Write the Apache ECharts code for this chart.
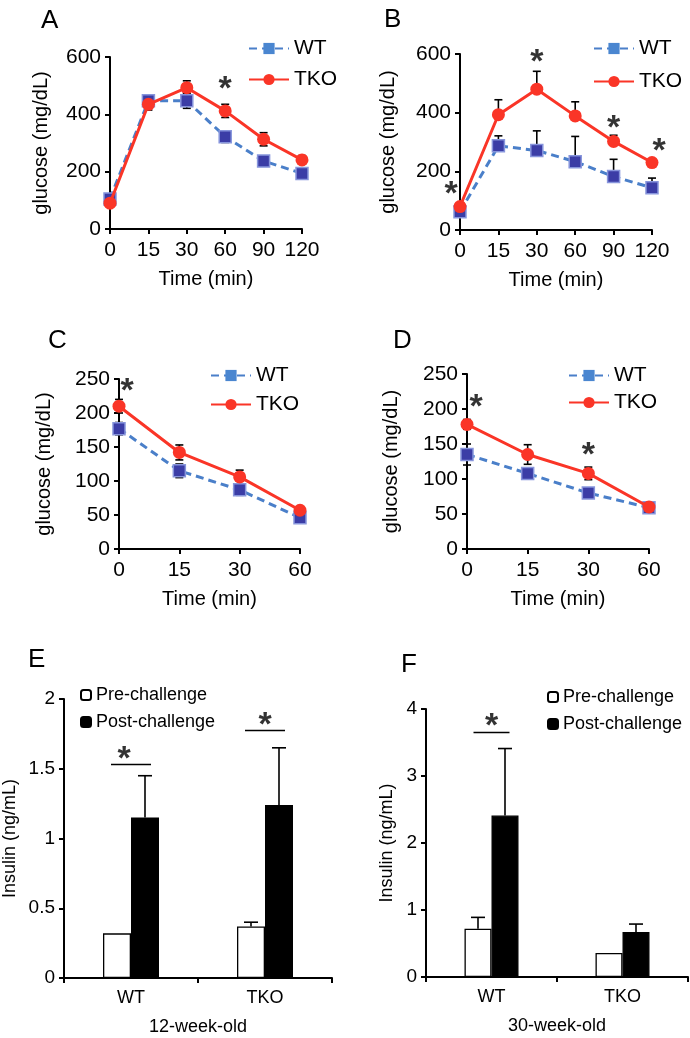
<!DOCTYPE html>
<html><head><meta charset="utf-8">
<script src="https://cdn.jsdelivr.net/npm/echarts@6/dist/echarts.min.js"></script>
<style>html,body{margin:0;padding:0;background:#fff}#c{width:690px;height:1038px}</style>
</head><body><div id="c"></div>
<script>
// ---------- data ----------
const timeAB = ['0','15','30','60','90','120'];
const timeCD = ['0','15','30','60'];
const wtA = [105,447,447,322,237,194];
const wtAErr = [10,10,26,20,10,10];
const tkoA = [90,435,493,412,313,241];
const tkoAErr = [8,20,24,23,23,15];
const wtB = [62,287,271,233,182,144];
const wtBErr = [8,34,67,86,59,33];
const tkoB = [80,393,480,389,302,230];
const tkoBErr = [8,51,61,48,21,6];
const wtC = [177,115,87,46];
const wtCErr = [9,10,8,4];
const tkoC = [210,142,106,57];
const tkoCErr = [10,11,10,4];
const wtD = [135,108,80,59];
const wtDErr = [15,4,4,5];
const tkoD = [178,135,108,60];
const tkoDErr = [7,14,9,6];
const groups = ['WT','TKO'];
const preE = [0.32,0.37];
const preEErr = [0,0.03];
const postE = [1.15,1.24];
const postEErr = [0.30,0.41];
const preF = [0.72,0.36];
const preFErr = [0.17,0];
const postF = [2.41,0.67];
const postFErr = [1.0,0.12];
const ticksAB = [0,200,400,600];
const ticksCD = [0,50,100,150,200,250];
const ticksE = [0,0.5,1,1.5,2];
const ticksF = [0,1,2,3,4];
// significance stars: [category, value]
const starsA = [['60',509]];
const starsB = [['0',143],['30',594],['90',369],['120',290]];
const starsC = [['0',242]];
const starsD = [['0',212],['30',143]];
// significance bars: [category, line value, star value]
const sigE = [['WT',1.53,1.615],['TKO',1.775,1.857]];
const sigF = [['WT',3.65,3.84]];

// ---------- style ----------
const FF = '"Liberation Sans", Arial, Helvetica, sans-serif';
const BLUE_LINE = '#4a7fc9', BLUE_MARK = '#3b3da6', BLUE_LEG = '#4a86d0', RED = '#fa3527';
const starDx = {B:{'0':-9,'120':7}, C:{'0':8}, D:{'0':9}, E:{'WT':-7}};
const STAR_DY = 7;

const grids = [
  {left:110, top:57, width:192, height:172},
  {left:460, top:54, width:192, height:176},
  {left:119, top:379, width:181, height:170},
  {left:467, top:374, width:182, height:175},
  {left:63, top:699, width:269, height:279},
  {left:426, top:709, width:262, height:268}
];

const axisLineStyle = {lineStyle:{color:'#000', width:2}};
const tickStyle = {show:true, length:5, inside:false, lineStyle:{color:'#000', width:2}};

function xLine(i, cats){
  return {type:'category', gridIndex:i, data:cats, boundaryGap:false,
    axisLine:axisLineStyle, axisTick:{...tickStyle, interval:0},
    axisLabel:{color:'#000', fontSize:21, fontFamily:FF, margin:11, interval:0},
    name:'Time (min)', nameLocation:'middle', nameGap:40,
    nameTextStyle:{color:'#000', fontSize:20, fontFamily:FF}};
}
function yAx(i, ticks, name, fs, nfs, gap, margin){
  return {type:'value', gridIndex:i, min:ticks[0], max:ticks[ticks.length-1], interval:ticks[1]-ticks[0],
    splitLine:{show:false}, axisLine:{show:true, lineStyle:{color:'#000', width:2}}, axisTick:tickStyle,
    axisLabel:{color:'#000', fontSize:fs, fontFamily:FF, margin:margin},
    name:name, nameLocation:'middle', nameGap:gap,
    nameTextStyle:{color:'#000', fontSize:nfs, fontFamily:FF}};
}
function xBar(i, name){
  return {type:'category', gridIndex:i, data:groups, boundaryGap:true,
    axisLine:axisLineStyle, axisTick:tickStyle,
    axisLabel:{color:'#000', fontSize:18, fontFamily:FF, margin:11},
    name:name, nameLocation:'middle', nameGap:40,
    nameTextStyle:{color:'#000', fontSize:18, fontFamily:FF}};
}

function errSeries(i, vals, errs, oneSided, dx, cap){
  return {type:'custom', xAxisIndex:i, yAxisIndex:i, silent:true, z:1,
    encode:{x:0, y:1},
    data: vals.map((v,k)=>[k, v, errs[k]]),
    renderItem(params, api){
      const k = api.value(0), v = api.value(1), e = api.value(2);
      if (!e) return {type:'group', children:[]};
      const t = api.coord([k, v+e]);
      const b = api.coord([k, oneSided ? v : v-e]);
      const x = t[0] + dx;
      const st = {stroke:'#000', lineWidth:1.6};
      const ch = [
        {type:'line', shape:{x1:x, y1:t[1], x2:x, y2:b[1]}, style:st},
        {type:'line', shape:{x1:x-cap, y1:t[1], x2:x+cap, y2:t[1]}, style:st}
      ];
      if (!oneSided) ch.push({type:'line', shape:{x1:x-cap, y1:b[1], x2:x+cap, y2:b[1]}, style:st});
      return {type:'group', children:ch};
    }};
}
function lineSeries(i, name, data){
  const wt = name === 'WT';
  return {type:'line', name:name, xAxisIndex:i, yAxisIndex:i, data:data, z:wt?3:4,
    symbol: wt ? 'rect' : 'circle', symbolSize: wt ? 12 : 13,
    lineStyle:{color: wt ? BLUE_LINE : RED, width:3, type: wt ? [8,5] : 'solid'},
    itemStyle: wt ? {color:BLUE_MARK, borderColor:'#8795dc', borderWidth:1.5} : {color:RED}};
}
function starSeries(i, stars, key){
  return {type:'scatter', xAxisIndex:i, yAxisIndex:i, silent:true, z:6,
    symbolSize:1, itemStyle:{color:'rgba(0,0,0,0)'},
    data: stars.map(s=>({value:[s[0], s[1]], label:{offset:[(starDx[key]||{})[s[0]]||0, STAR_DY]}})),
    label:{show:true, position:'inside', formatter:'*', color:'#000', fontSize:34, fontWeight:'bold', fontFamily:FF}};
}
function sigLineSeries(i, sig, hw){
  return {type:'custom', xAxisIndex:i, yAxisIndex:i, silent:true, z:5,
    encode:{x:0, y:1},
    data: sig.map(s=>[groups.indexOf(s[0]), s[1]]),
    renderItem(params, api){
      const c = api.coord([api.value(0), api.value(1)]);
      return {type:'line', shape:{x1:c[0]-hw, y1:c[1], x2:c[0]+hw, y2:c[1]}, style:{stroke:'#000', lineWidth:1.5}};
    }};
}
function lineLegend(left, top, gap){
  return {orient:'vertical', left:left, top:top, itemWidth:40, itemHeight:14, itemGap:gap, selectedMode:false,
    textStyle:{color:'#000', fontSize:21, fontFamily:FF},
    data:[{name:'WT', itemStyle:{color:BLUE_LEG, borderWidth:0}}, {name:'TKO'}]};
}
function barLegend(left, top){
  return {orient:'vertical', left:left, top:top, itemWidth:10, itemHeight:10, itemGap:9, selectedMode:false,
    textStyle:{color:'#000', fontSize:18, fontFamily:FF},
    data:['Pre-challenge','Post-challenge']};
}

const series = [
  errSeries(0, wtA, wtAErr, false, 0, 4), errSeries(0, tkoA, tkoAErr, false, 0, 4),
  lineSeries(0,'WT',wtA), lineSeries(0,'TKO',tkoA), starSeries(0, starsA, 'A'),
  errSeries(1, wtB, wtBErr, true, 0, 4), errSeries(1, tkoB, tkoBErr, true, 0, 4),
  lineSeries(1,'WT',wtB), lineSeries(1,'TKO',tkoB), starSeries(1, starsB, 'B'),
  errSeries(2, wtC, wtCErr, false, 0, 4), errSeries(2, tkoC, tkoCErr, false, 0, 4),
  lineSeries(2,'WT',wtC), lineSeries(2,'TKO',tkoC), starSeries(2, starsC, 'C'),
  errSeries(3, wtD, wtDErr, false, 0, 4), errSeries(3, tkoD, tkoDErr, false, 0, 4),
  lineSeries(3,'WT',wtD), lineSeries(3,'TKO',tkoD), starSeries(3, starsD, 'D'),
  {type:'bar', name:'Pre-challenge', xAxisIndex:4, yAxisIndex:4, data:preE, barWidth:28, barGap:'0%',
    itemStyle:{color:'#fff', borderColor:'#000', borderWidth:1.3}},
  {type:'bar', name:'Post-challenge', xAxisIndex:4, yAxisIndex:4, data:postE, barWidth:28, barGap:'0%',
    itemStyle:{color:'#000', borderColor:'#000', borderWidth:1.3}},
  errSeries(4, preE, preEErr, true, -14, 7), errSeries(4, postE, postEErr, true, 14, 7),
  sigLineSeries(4, sigE, 20), starSeries(4, sigE.map(s=>[s[0], s[2]]), 'E'),
  {type:'bar', name:'Pre-challenge', xAxisIndex:5, yAxisIndex:5, data:preF, barWidth:27, barGap:'0%',
    itemStyle:{color:'#fff', borderColor:'#000', borderWidth:1.3}},
  {type:'bar', name:'Post-challenge', xAxisIndex:5, yAxisIndex:5, data:postF, barWidth:27, barGap:'0%',
    itemStyle:{color:'#000', borderColor:'#000', borderWidth:1.3}},
  errSeries(5, preF, preFErr, true, -13.5, 7), errSeries(5, postF, postFErr, true, 13.5, 7),
  sigLineSeries(5, sigF, 18), starSeries(5, sigF.map(s=>[s[0], s[2]]), 'F')
];

const titleStyle = {color:'#000', fontSize:26, fontWeight:'normal', fontFamily:FF};
const option = {
  animation:false,
  backgroundColor:'#fff',
  title:[
    {text:'A', left:36, top:3, textStyle:titleStyle},
    {text:'B', left:379, top:2, textStyle:titleStyle},
    {text:'C', left:43, top:323, textStyle:titleStyle},
    {text:'D', left:388, top:323, textStyle:titleStyle},
    {text:'E', left:23, top:642, textStyle:titleStyle},
    {text:'F', left:396, top:647, textStyle:titleStyle}
  ],
  legend:[
    lineLegend(243, 33, 10), lineLegend(588, 33, 12),
    lineLegend(205, 360, 8), lineLegend(563, 360, 6),
    barLegend(75, 681), barLegend(542, 683)
  ],
  grid: grids,
  xAxis:[xLine(0,timeAB), xLine(1,timeAB), xLine(2,timeCD), xLine(3,timeCD), xBar(4,'12-week-old'), xBar(5,'30-week-old')],
  yAxis:[
    yAx(0, ticksAB, 'glucose (mg/dL)', 21, 20, 59, 9),
    yAx(1, ticksAB, 'glucose (mg/dL)', 21, 20, 62, 9),
    yAx(2, ticksCD, 'glucose (mg/dL)', 21, 20, 65, 9),
    yAx(3, ticksCD, 'glucose (mg/dL)', 21, 20, 66, 9),
    yAx(4, ticksE, 'Insulin (ng/mL)', 19, 18, 45, 9),
    yAx(5, ticksF, 'Insulin (ng/mL)', 19, 18, 30, 9)
  ],
  series: series
};
const chart = echarts.init(document.getElementById('c'), null, {renderer:'canvas'});
chart.setOption(option);
</script></body></html>
